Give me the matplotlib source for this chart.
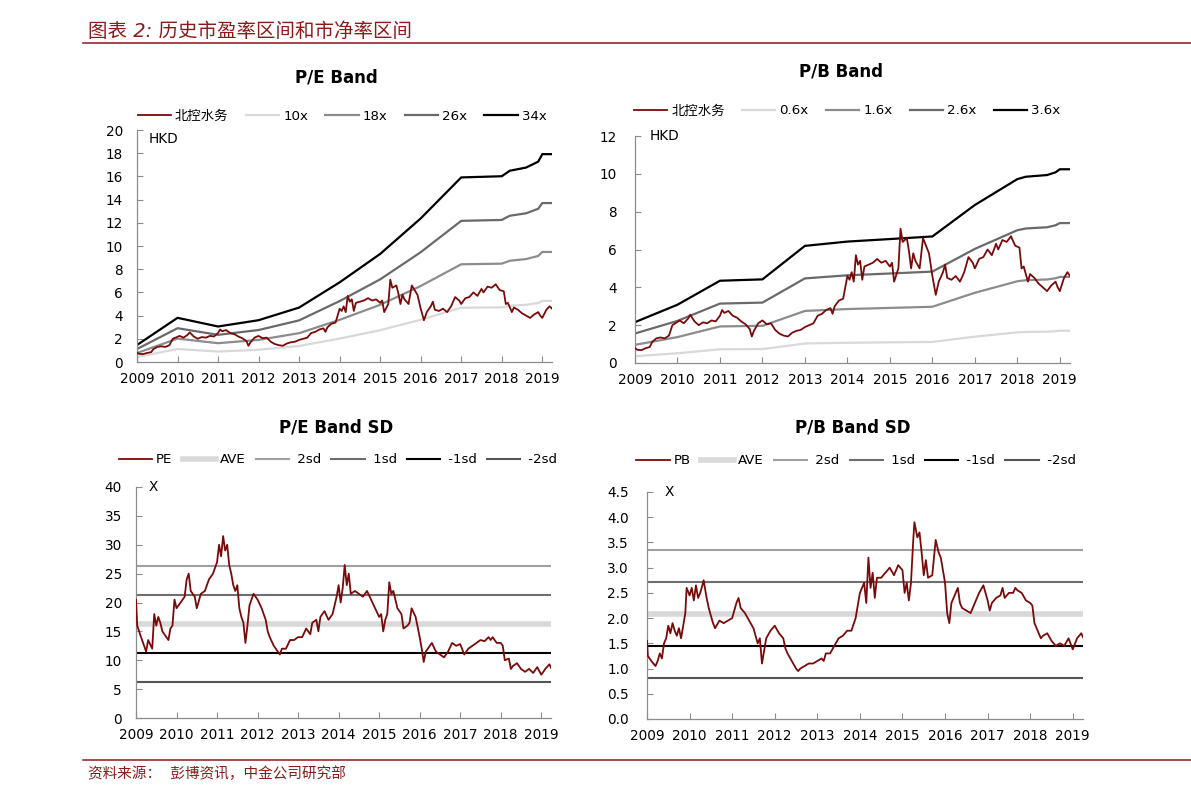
import matplotlib
matplotlib.use("Agg")
import matplotlib.pyplot as plt
from matplotlib.lines import Line2D
from matplotlib.ticker import FormatStrFormatter

plt.rcParams['font.family'] = ['DejaVu Sans', 'Noto Sans CJK SC']

# share price (HKD)
price_t = [2009.00, 2009.05, 2009.15, 2009.25, 2009.35, 2009.40, 2009.50, 2009.60, 2009.70, 2009.80,
           2009.88, 2009.95, 2010.05, 2010.15, 2010.25, 2010.30, 2010.40, 2010.50, 2010.60, 2010.70,
           2010.80, 2010.90, 2011.00, 2011.05, 2011.10, 2011.20, 2011.30, 2011.40, 2011.50, 2011.60,
           2011.70, 2011.75, 2011.80, 2011.90, 2012.00, 2012.10, 2012.20, 2012.30, 2012.40, 2012.50,
           2012.60, 2012.70, 2012.80, 2012.90, 2013.00, 2013.10, 2013.20, 2013.30, 2013.40, 2013.50,
           2013.60, 2013.65, 2013.70, 2013.80, 2013.90, 2013.95, 2014.00, 2014.05, 2014.10, 2014.15,
           2014.20, 2014.25, 2014.30, 2014.35, 2014.40, 2014.50, 2014.60, 2014.70, 2014.80, 2014.90,
           2015.00, 2015.05, 2015.10, 2015.20, 2015.25, 2015.30, 2015.40, 2015.45, 2015.50, 2015.55,
           2015.60, 2015.70, 2015.78, 2015.85, 2015.92, 2016.00, 2016.08, 2016.15, 2016.25, 2016.30,
           2016.35, 2016.45, 2016.55, 2016.65, 2016.75, 2016.85, 2016.95, 2017.00, 2017.10, 2017.20,
           2017.30, 2017.40, 2017.50, 2017.55, 2017.65, 2017.75, 2017.85, 2017.95, 2018.05, 2018.10,
           2018.15, 2018.25, 2018.30, 2018.40, 2018.50, 2018.60, 2018.70, 2018.80, 2018.90, 2018.95,
           2019.00, 2019.10, 2019.18, 2019.24]
price = [0.80, 0.70, 0.68, 0.78, 0.85, 1.10, 1.30, 1.35, 1.30, 1.45,
         2.00, 2.10, 2.25, 2.10, 2.35, 2.55, 2.20, 2.00, 2.15, 2.10,
         2.25, 2.20, 2.50, 2.80, 2.65, 2.75, 2.50, 2.40, 2.20, 2.05,
         1.80, 1.40, 1.70, 2.10, 2.25, 2.05, 2.10, 1.75, 1.55, 1.45,
         1.40, 1.60, 1.70, 1.75, 1.90, 2.00, 2.10, 2.50, 2.60, 2.80,
         2.90, 2.60, 3.00, 3.30, 3.40, 4.00, 4.60, 4.40, 4.80, 4.30,
         5.70, 5.20, 5.40, 4.40, 5.10, 5.20, 5.30, 5.50, 5.30, 5.40,
         5.10, 5.30, 4.30, 5.00, 7.10, 6.40, 6.60, 5.90, 5.00, 5.80,
         5.40, 5.00, 6.60, 6.20, 5.80, 4.60, 3.60, 4.30, 4.80, 5.20,
         4.50, 4.40, 4.60, 4.30, 4.80, 5.60, 5.30, 5.00, 5.50, 5.60,
         6.00, 5.70, 6.30, 6.00, 6.50, 6.40, 6.70, 6.20, 6.10, 5.00,
         5.10, 4.30, 4.70, 4.50, 4.20, 4.00, 3.80, 4.10, 4.30, 4.00,
         3.80, 4.50, 4.80, 4.60]

# earnings and book value per share behind the bands
eps_t = [2009.0, 2010.0, 2011.0, 2012.0, 2013.0, 2014.0, 2015.0, 2016.0, 2017.0, 2018.0,
         2018.2, 2018.6, 2018.9, 2019.0, 2019.24]
eps = [0.043, 0.112, 0.090, 0.106, 0.138, 0.202, 0.274, 0.364, 0.468, 0.471,
       0.485, 0.493, 0.508, 0.527, 0.527]
pe_mult = [10, 18, 26, 34]

bvps_t = [2009.0, 2010.0, 2011.0, 2012.0, 2013.0, 2014.0, 2015.0, 2016.0, 2017.0, 2018.0,
          2018.2, 2018.7, 2018.9, 2019.0, 2019.24]
bvps = [0.600, 0.856, 1.208, 1.228, 1.720, 1.783, 1.820, 1.858, 2.320, 2.700,
        2.735, 2.760, 2.800, 2.845, 2.845]
pb_mult = [0.6, 1.6, 2.6, 3.6]

band_colors = ['#d9d9d9', '#8c8c8c', '#6a6a6a', '#000000']

# P/E multiple
pe_t = [2009.00, 2009.03, 2009.10, 2009.20, 2009.25, 2009.30, 2009.40, 2009.45, 2009.50, 2009.55,
        2009.60, 2009.65, 2009.75, 2009.80, 2009.85, 2009.90, 2009.95, 2010.00, 2010.10, 2010.20,
        2010.25, 2010.30, 2010.35, 2010.45, 2010.50, 2010.60, 2010.70, 2010.80, 2010.90, 2011.00,
        2011.05, 2011.10, 2011.15, 2011.20, 2011.25, 2011.30, 2011.35, 2011.40, 2011.45, 2011.50,
        2011.55, 2011.60, 2011.65, 2011.70, 2011.75, 2011.80, 2011.90, 2012.00, 2012.10, 2012.20,
        2012.25, 2012.30, 2012.40, 2012.50, 2012.55, 2012.60, 2012.70, 2012.80, 2012.90, 2013.00,
        2013.10, 2013.20, 2013.30, 2013.35, 2013.45, 2013.50, 2013.55, 2013.65, 2013.75, 2013.85,
        2013.95, 2014.00, 2014.05, 2014.10, 2014.15, 2014.20, 2014.25, 2014.30, 2014.40, 2014.50,
        2014.60, 2014.70, 2014.80, 2014.90, 2015.00, 2015.05, 2015.10, 2015.15, 2015.20, 2015.25,
        2015.30, 2015.35, 2015.45, 2015.55, 2015.60, 2015.70, 2015.75, 2015.80, 2015.90, 2016.00,
        2016.05, 2016.10, 2016.15, 2016.25, 2016.30, 2016.40, 2016.50, 2016.60, 2016.70, 2016.80,
        2016.90, 2017.00, 2017.10, 2017.20, 2017.30, 2017.40, 2017.50, 2017.60, 2017.70, 2017.75,
        2017.80, 2017.90, 2018.00, 2018.05, 2018.10, 2018.20, 2018.25, 2018.30, 2018.40, 2018.50,
        2018.60, 2018.70, 2018.80, 2018.90, 2019.00, 2019.10, 2019.20, 2019.24]
pe = [20.5, 16.0, 14.5, 12.5, 11.5, 13.5, 12.0, 18.0, 16.0, 17.5,
      16.5, 15.0, 14.0, 13.5, 15.5, 16.0, 20.5, 19.0, 20.0, 21.0,
      24.0, 25.0, 22.0, 21.0, 19.0, 21.5, 22.0, 24.0, 25.0, 27.0,
      30.0, 28.0, 31.5, 29.0, 30.0, 26.5, 25.0, 23.0, 22.0, 23.0,
      19.0, 17.5, 16.5, 13.0, 16.0, 19.5, 21.5, 20.5, 19.0, 17.0,
      15.0, 14.0, 12.5, 11.5, 11.0, 12.0, 12.0, 13.5, 13.5, 14.0,
      14.0, 15.5, 14.5, 16.5, 17.0, 15.0, 17.5, 18.5, 17.0, 18.0,
      21.0, 23.0, 20.0, 22.5, 26.5, 23.0, 25.0, 21.5, 22.0, 21.5,
      21.0, 22.0, 20.5, 19.0, 17.5, 18.0, 15.0, 17.0, 18.0, 23.5,
      21.5, 22.0, 19.0, 18.0, 15.5, 16.0, 16.5, 19.0, 17.5, 14.0,
      12.0, 9.7, 11.5, 12.5, 13.0, 11.5, 11.0, 10.5, 11.5, 13.0,
      12.5, 12.8, 11.0, 12.0, 12.5, 13.0, 13.5, 13.3, 14.0, 13.5,
      14.0, 13.0, 13.0, 12.5, 10.0, 10.3, 8.5, 9.0, 9.5, 8.5,
      8.0, 8.5, 7.8, 8.8, 7.5, 8.5, 9.3, 8.7]
pe_lines = [16.3, 26.3, 21.3, 11.3, 6.3]   # AVE, 2sd, 1sd, -1sd, -2sd

# P/B multiple
pb_t = [2009.00, 2009.02, 2009.10, 2009.20, 2009.25, 2009.30, 2009.35, 2009.40, 2009.45, 2009.50,
        2009.55, 2009.60, 2009.65, 2009.70, 2009.75, 2009.80, 2009.85, 2009.90, 2009.93, 2010.00,
        2010.05, 2010.10, 2010.15, 2010.20, 2010.25, 2010.30, 2010.33, 2010.40, 2010.45, 2010.50,
        2010.55, 2010.60, 2010.70, 2010.80, 2010.90, 2011.00, 2011.05, 2011.10, 2011.15, 2011.20,
        2011.30, 2011.40, 2011.50, 2011.60, 2011.65, 2011.70, 2011.75, 2011.80, 2011.90, 2012.00,
        2012.10, 2012.20, 2012.25, 2012.30, 2012.40, 2012.50, 2012.55, 2012.60, 2012.70, 2012.80,
        2012.90, 2013.00, 2013.10, 2013.15, 2013.20, 2013.30, 2013.40, 2013.50, 2013.60, 2013.70,
        2013.80, 2013.90, 2014.00, 2014.10, 2014.15, 2014.20, 2014.25, 2014.30, 2014.35, 2014.40,
        2014.50, 2014.60, 2014.70, 2014.80, 2014.90, 2015.00, 2015.05, 2015.10, 2015.15, 2015.20,
        2015.25, 2015.28, 2015.35, 2015.40, 2015.45, 2015.50, 2015.55, 2015.60, 2015.70, 2015.78,
        2015.85, 2015.90, 2016.00, 2016.05, 2016.10, 2016.15, 2016.20, 2016.30, 2016.35, 2016.40,
        2016.50, 2016.60, 2016.70, 2016.80, 2016.90, 2017.00, 2017.05, 2017.10, 2017.20, 2017.30,
        2017.35, 2017.40, 2017.50, 2017.60, 2017.65, 2017.70, 2017.80, 2017.90, 2018.00, 2018.05,
        2018.10, 2018.15, 2018.25, 2018.30, 2018.40, 2018.50, 2018.60, 2018.70, 2018.80, 2018.90,
        2019.00, 2019.10, 2019.20, 2019.24]
pb = [1.55, 1.25, 1.15, 1.05, 1.15, 1.30, 1.20, 1.50, 1.60, 1.85,
      1.70, 1.90, 1.75, 1.65, 1.80, 1.60, 1.85, 2.10, 2.60, 2.45,
      2.60, 2.35, 2.65, 2.40, 2.50, 2.65, 2.75, 2.40, 2.20, 2.05,
      1.90, 1.80, 1.95, 1.90, 1.95, 2.00, 2.15, 2.30, 2.40, 2.20,
      2.10, 1.95, 1.80, 1.50, 1.60, 1.10, 1.35, 1.60, 1.75, 1.85,
      1.70, 1.60, 1.40, 1.30, 1.15, 1.00, 0.95, 1.00, 1.05, 1.10,
      1.10, 1.15, 1.20, 1.15, 1.30, 1.30, 1.45, 1.60, 1.65, 1.75,
      1.75, 2.00, 2.50, 2.70, 2.30, 3.20, 2.60, 2.90, 2.40, 2.80,
      2.80, 2.90, 3.00, 2.85, 3.05, 2.95, 2.50, 2.70, 2.35, 2.70,
      3.50, 3.90, 3.60, 3.70, 3.30, 2.85, 3.15, 2.80, 2.85, 3.55,
      3.30, 3.20, 2.70, 2.10, 1.90, 2.30, 2.40, 2.60, 2.30, 2.20,
      2.15, 2.10, 2.30, 2.50, 2.65, 2.35, 2.15, 2.30, 2.40, 2.45,
      2.60, 2.40, 2.50, 2.50, 2.60, 2.55, 2.50, 2.35, 2.30, 2.25,
      1.90, 1.80, 1.60, 1.65, 1.70, 1.55, 1.45, 1.50, 1.45, 1.60,
      1.38, 1.60, 1.70, 1.62]
pb_lines = [2.08, 3.35, 2.72, 1.45, 0.82]   # AVE, 2sd, 1sd, -1sd, -2sd

sd_labels = ['AVE', ' 2sd', ' 1sd', ' -1sd', ' -2sd']
sd_colors = ['#d9d9d9', '#a0a0a0', '#6e6e6e', '#000000', '#555555']
sd_widths = [4, 1.5, 1.5, 1.5, 1.5]

years = list(range(2009, 2020))
RED = '#7a0a0a'
HEAD = '#8b1a1a'
W, H = 1191, 801

fig = plt.figure(figsize=(11.91, 8.01), dpi=100)


def px_axes(l, t, r, b):
    return fig.add_axes([l / W, 1 - b / H, (r - l) / W, (b - t) / H])


def style(ax, ymax, ystep, pad_y=10, fmt=None):
    ax.set_xlim(2009, 2019.24)
    ax.set_ylim(0, ymax)
    ax.set_xticks(years)
    ax.set_yticks([i * ystep for i in range(int(round(ymax / ystep)) + 1)])
    if fmt:
        ax.yaxis.set_major_formatter(FormatStrFormatter(fmt))
    for s in ['top', 'right']:
        ax.spines[s].set_visible(False)
    for s in ['left', 'bottom']:
        ax.spines[s].set_color('#8c8c8c')
        ax.spines[s].set_linewidth(0.9)
    ax.tick_params(direction='in', length=4, color='#8c8c8c', labelsize=9.8)
    ax.tick_params(axis='y', pad=pad_y)
    ax.tick_params(axis='x', pad=7)


def legend(ax, handles, labels, cx, cy, ncol, colsp=1.3):
    ax.legend(handles, labels, loc='center', bbox_to_anchor=(cx / W, 1 - cy / H),
              bbox_transform=fig.transFigure, ncol=ncol, frameon=False,
              handlelength=2.5, handletextpad=0.3, columnspacing=colsp, fontsize=9.6)


# header and footer
fig.text(88 / W, 1 - 31 / H, '图表 2: 历史市盈率区间和市净率区间', color=HEAD,
         fontsize=14, style='italic', ha='left', va='center')
fig.add_artist(Line2D([83 / W, 1], [1 - 43 / H] * 2, color=HEAD, lw=1.1))
fig.add_artist(Line2D([83 / W, 1], [1 - 760 / H] * 2, color=HEAD, lw=1.1))
fig.text(88 / W, 1 - 774 / H, '资料来源：  彭博资讯，中金公司研究部', color=HEAD,
         fontsize=10.5, style='italic', ha='left', va='center')

# P/E Band
ax1 = px_axes(137, 130, 552, 362)
h = ax1.plot(price_t, price, color=RED, lw=1.3, zorder=5)
for m, c in zip(pe_mult, band_colors):
    h += ax1.plot(eps_t, [e * m for e in eps], color=c, lw=1.6)
style(ax1, 20, 2)
ax1.text(0.027, 0.96, 'HKD', transform=ax1.transAxes, fontsize=9.8, va='center')
fig.text(336 / W, 1 - 77 / H, 'P/E Band', fontsize=12, fontweight='bold', ha='center', va='center')
legend(ax1, h, ['北控水务'] + ['%dx' % m for m in pe_mult], 342, 116, 5)

# P/B Band
ax2 = px_axes(635, 136, 1070, 363)
h = ax2.plot(price_t, price, color=RED, lw=1.3, zorder=5)
for m, c in zip(pb_mult, band_colors):
    h += ax2.plot(bvps_t, [b * m for b in bvps], color=c, lw=1.6)
style(ax2, 12, 2, pad_y=13)
ax2.text(0.034, 1.0, 'HKD', transform=ax2.transAxes, fontsize=9.8, va='center')
fig.text(841 / W, 1 - 72 / H, 'P/B Band', fontsize=12, fontweight='bold', ha='center', va='center')
legend(ax2, h, ['北控水务'] + ['%.1fx' % m for m in pb_mult], 847, 111, 5)

# P/E Band SD
ax3 = px_axes(136, 487, 551, 718)
h = ax3.plot(pe_t, pe, color=RED, lw=1.3, zorder=5)
for v, c, w in zip(pe_lines, sd_colors, sd_widths):
    h += [ax3.axhline(v, color=c, lw=w)]
style(ax3, 40, 5)
ax3.text(0.03, 1.0, 'X', transform=ax3.transAxes, fontsize=9.8, va='center')
fig.text(336 / W, 1 - 427 / H, 'P/E Band SD', fontsize=12, fontweight='bold', ha='center', va='center')
legend(ax3, h, ['PE'] + sd_labels, 338, 460, 6, colsp=0.75)

# P/B Band SD
ax4 = px_axes(647, 492, 1083, 719)
h = ax4.plot(pb_t, pb, color=RED, lw=1.3, zorder=5)
for v, c, w in zip(pb_lines, sd_colors, sd_widths):
    h += [ax4.axhline(v, color=c, lw=w)]
style(ax4, 4.5, 0.5, pad_y=13, fmt='%.1f')
ax4.text(0.041, 1.0, 'X', transform=ax4.transAxes, fontsize=9.8, va='center')
fig.text(853 / W, 1 - 428 / H, 'P/B Band SD', fontsize=12, fontweight='bold', ha='center', va='center')
legend(ax4, h, ['PB'] + sd_labels, 856, 461, 6, colsp=0.75)

fig.savefig('out.png', dpi=100)
